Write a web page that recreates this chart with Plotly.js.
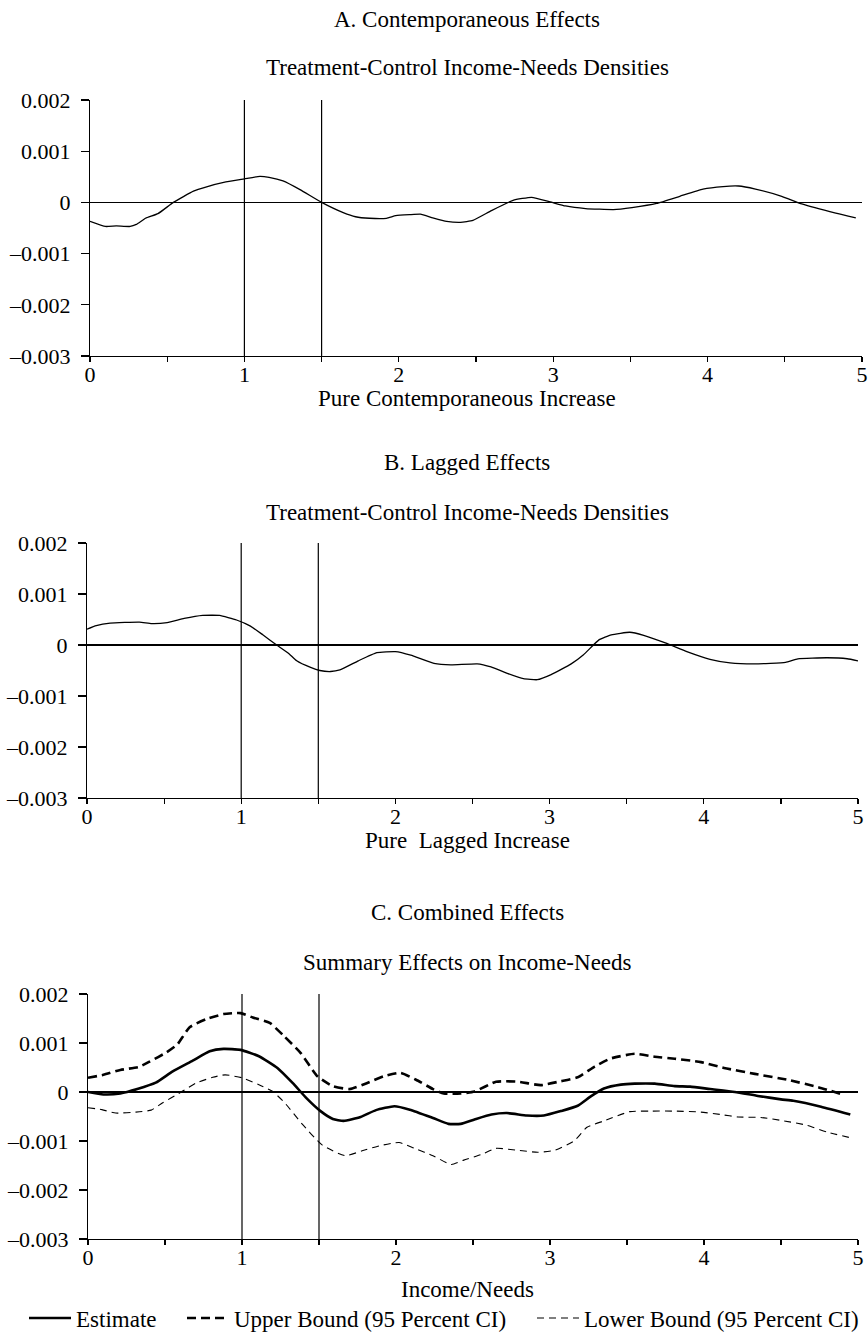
<!DOCTYPE html>
<html><head><meta charset="utf-8">
<script src="https://cdn.plot.ly/plotly-3.0.1.min.js"></script>
<style>html,body{margin:0;padding:0;background:#fff}#chart{width:868px;height:1332px}</style>
</head><body><div id="chart"></div>
<script>
// ---------- data ----------
const panelTitles = ["A. Contemporaneous Effects", "B. Lagged Effects", "C. Combined Effects"];
const panelSubtitles = ["Treatment-Control Income-Needs Densities", "Treatment-Control Income-Needs Densities", "Summary Effects on Income-Needs"];
const xAxisTitles = ["Pure Contemporaneous Increase", "Pure\u00a0 Lagged Increase", "Income/Needs"];
const seriesNames = ["Estimate", "Upper Bound (95 Percent CI)", "Lower Bound (95 Percent CI)"];

const xTickVals = [0, 0.5, 1, 1.5, 2, 2.5, 3, 3.5, 4, 4.5, 5];
const xTickText = ["0", "", "1", "", "2", "", "3", "", "4", "", "5"];
const yTickVals = [0.002, 0.001, 0, -0.001, -0.002, -0.003];
const yTickText = ["0.002", "0.001", "0", "\u20130.001", "\u20130.002", "\u20130.003"];
const cutoffs = [1, 1.5];

const contempX = [0, 0.1, 0.17, 0.26, 0.3, 0.36, 0.44, 0.54, 0.67, 0.75, 0.88, 1.0, 1.1, 1.16, 1.25, 1.36, 1.5, 1.64, 1.72, 1.81, 1.92, 1.98, 2.07, 2.14, 2.22, 2.31, 2.4, 2.48, 2.6, 2.74, 2.86, 2.98, 3.08, 3.21, 3.39, 3.51, 3.67, 3.82, 3.97, 4.1, 4.2, 4.31, 4.48, 4.61, 4.83, 4.96];
const contempY = [-0.00037, -0.00047, -0.00046, -0.00047, -0.00043, -0.00031, -0.00022, 0.0, 0.00022, 0.00030, 0.00040, 0.00046, 0.00051, 0.00049, 0.00042, 0.00025, 0.0, -0.00020, -0.00028, -0.00031, -0.00031, -0.00026, -0.00024, -0.00023, -0.00030, -0.00037, -0.00039, -0.00035, -0.00016, 0.00004, 0.00010, 0.00001, -0.00007, -0.00012, -0.00014, -0.00010, -0.00002, 0.00012, 0.00026, 0.00031, 0.00032, 0.00026, 0.00012, -0.00003, -0.00021, -0.00030];

const laggedX = [0, 0.06, 0.15, 0.34, 0.42, 0.52, 0.63, 0.75, 0.86, 0.97, 1.06, 1.14, 1.23, 1.31, 1.36, 1.45, 1.51, 1.58, 1.64, 1.76, 1.88, 2.0, 2.1, 2.25, 2.36, 2.53, 2.62, 2.73, 2.83, 2.92, 3.01, 3.14, 3.22, 3.32, 3.4, 3.52, 3.61, 3.76, 3.89, 4.04, 4.17, 4.33, 4.53, 4.61, 4.8, 4.93, 5.0];
const laggedY = [0.00031, 0.00038, 0.00043, 0.00045, 0.00042, 0.00044, 0.00052, 0.00058, 0.00058, 0.00049, 0.00037, 0.00020, 0.0, -0.00017, -0.00031, -0.00044, -0.00050, -0.00052, -0.00049, -0.00031, -0.00015, -0.00013, -0.00020, -0.00036, -0.00039, -0.00037, -0.00043, -0.00056, -0.00066, -0.00068, -0.00058, -0.00037, -0.00019, 0.00010, 0.00020, 0.00025, 0.00019, 0.00003, -0.00013, -0.00028, -0.00035, -0.00037, -0.00034, -0.00027, -0.00025, -0.00027, -0.00031];

const estX = [0, 0.1, 0.21, 0.32, 0.44, 0.55, 0.68, 0.79, 0.88, 0.99, 1.11, 1.23, 1.33, 1.42, 1.51, 1.59, 1.66, 1.77, 1.87, 1.99, 2.09, 2.24, 2.34, 2.42, 2.51, 2.62, 2.72, 2.85, 2.96, 3.07, 3.18, 3.26, 3.35, 3.46, 3.55, 3.68, 3.81, 3.91, 4.04, 4.2, 4.35, 4.5, 4.58, 4.76, 4.95];
const estY = [0, -0.00005, -0.00003, 0.00006, 0.00019, 0.00042, 0.00064, 0.00083, 0.00088, 0.00086, 0.00073, 0.00049, 0.00018, -0.00013, -0.00039, -0.00055, -0.00059, -0.00051, -0.00037, -0.00029, -0.00036, -0.00053, -0.00065, -0.00065, -0.00056, -0.00046, -0.00043, -0.00048, -0.00048, -0.00039, -0.00028, -0.00010, 0.00007, 0.00015, 0.00017, 0.00017, 0.00012, 0.00011, 0.00006, 0.0, -0.00008, -0.00015, -0.00018, -0.00030, -0.00046];

const upperX = [0, 0.1, 0.21, 0.33, 0.4, 0.51, 0.58, 0.66, 0.77, 0.88, 0.99, 1.07, 1.18, 1.27, 1.38, 1.49, 1.59, 1.7, 1.81, 1.92, 2.03, 2.13, 2.24, 2.31, 2.42, 2.51, 2.65, 2.79, 2.94, 3.07, 3.18, 3.29, 3.39, 3.55, 3.68, 3.81, 3.98, 4.13, 4.33, 4.54, 4.74, 4.91];
const upperY = [0.00029, 0.00035, 0.00045, 0.00051, 0.00062, 0.00081, 0.00097, 0.00132, 0.00149, 0.00159, 0.00161, 0.00152, 0.00141, 0.00115, 0.00080, 0.00032, 0.00012, 0.00006, 0.00018, 0.00032, 0.00039, 0.00025, 0.00006, -0.00003, -0.00003, 0.00001, 0.00021, 0.00021, 0.00014, 0.00022, 0.00030, 0.00052, 0.00068, 0.00078, 0.00072, 0.00068, 0.00061, 0.00049, 0.00037, 0.00025, 0.00010, -0.00006];

const lowerX = [0, 0.09, 0.18, 0.31, 0.41, 0.48, 0.59, 0.7, 0.81, 0.89, 1.0, 1.11, 1.2, 1.28, 1.39, 1.52, 1.67, 1.78, 1.89, 2.02, 2.12, 2.24, 2.36, 2.44, 2.55, 2.65, 2.79, 2.92, 3.03, 3.16, 3.24, 3.35, 3.52, 3.65, 3.81, 3.98, 4.11, 4.22, 4.37, 4.52, 4.67, 4.8, 4.96];
const lowerY = [-0.00032, -0.00036, -0.00043, -0.00041, -0.00037, -0.00023, -0.00003, 0.00018, 0.00030, 0.00035, 0.00029, 0.00015, 0.00001, -0.00023, -0.00065, -0.00108, -0.00130, -0.00120, -0.00110, -0.00103, -0.00115, -0.00130, -0.00148, -0.00139, -0.00128, -0.00115, -0.00119, -0.00123, -0.00119, -0.00099, -0.00072, -0.00059, -0.00040, -0.00039, -0.00039, -0.00041, -0.00046, -0.00051, -0.00052, -0.00059, -0.00068, -0.00082, -0.00094];

// ---------- layout helpers (pixel geometry) ----------
const W = 868, H = 1332;
const fx = p => p / W;
const fy = p => 1 - p / H;
const FONT = "Liberation Serif, Times New Roman, serif";

// panel plot areas: [left, right, top, bottom] in px
const boxes = [[90, 862, 100, 356], [87, 858, 543, 798], [88, 858, 994, 1239]];
const titleY = [[19, 67, 398], [462, 512, 840], [913, 962, 1289]];
const titleX = 467;

function xAxis(i) {
  const b = boxes[i];
  return {
    domain: [fx(b[0]), fx(b[1])], anchor: i === 0 ? 'y' : 'y' + (i + 1),
    range: [0, 5], showline: true, linecolor: '#000', linewidth: 1.2,
    ticks: 'outside', ticklen: 5, tickwidth: 1.2, tickcolor: '#000',
    tickmode: 'array', tickvals: xTickVals, ticktext: xTickText, ticklabelstandoff: -7,
    showgrid: false, zeroline: false, tickfont: {size: 22, color: '#000'}, fixedrange: true
  };
}
function yAxis(i) {
  const b = boxes[i];
  return {
    domain: [fy(b[3]), fy(b[2])], anchor: i === 0 ? 'x' : 'x' + (i + 1),
    range: [-0.003, 0.002], showline: true, linecolor: '#000', linewidth: 1.2,
    ticks: 'outside', ticklen: 8, tickwidth: 1.2, tickcolor: '#000',
    tickmode: 'array', tickvals: yTickVals, ticktext: yTickText, ticklabelstandoff: 6,
    showgrid: false, zeroline: true, zerolinecolor: '#000', zerolinewidth: 1.2,
    tickfont: {size: 22, color: '#000'}, fixedrange: true
  };
}

const traces = [
  {x: contempX, y: contempY, xaxis: 'x', yaxis: 'y', mode: 'lines', showlegend: false,
   line: {color: '#000', width: 1.3, shape: 'spline', smoothing: 0.4}},
  {x: laggedX, y: laggedY, xaxis: 'x2', yaxis: 'y2', mode: 'lines', showlegend: false,
   line: {color: '#000', width: 1.3, shape: 'spline', smoothing: 0.4}},
  {x: estX, y: estY, xaxis: 'x3', yaxis: 'y3', mode: 'lines', name: seriesNames[0], legend: 'legend',
   line: {color: '#000', width: 2.6, shape: 'spline', smoothing: 0.5}},
  {x: upperX, y: upperY, xaxis: 'x3', yaxis: 'y3', mode: 'lines', name: seriesNames[1], legend: 'legend2',
   line: {color: '#000', width: 2.6, dash: '9px,5px', shape: 'spline', smoothing: 0.5}},
  {x: lowerX, y: lowerY, xaxis: 'x3', yaxis: 'y3', mode: 'lines', name: seriesNames[2], legend: 'legend3',
   line: {color: '#000', width: 1.1, dash: '7px,5px', shape: 'spline', smoothing: 0.5}}
];

const shapes = [];
[0, 1, 2].forEach(i => {
  const xr = i === 0 ? 'x' : 'x' + (i + 1);
  const yr = (i === 0 ? 'y' : 'y' + (i + 1)) + ' domain';
  cutoffs.forEach(c => shapes.push({type: 'line', xref: xr, yref: yr, x0: c, x1: c, y0: 0, y1: 1,
    line: {color: '#000', width: 1.2}, layer: 'above'}));
});

const annotations = [];
[0, 1, 2].forEach(i => {
  const texts = [panelTitles[i], panelSubtitles[i], xAxisTitles[i]];
  texts.forEach((t, k) => annotations.push({
    text: t, xref: 'paper', yref: 'paper', x: fx(titleX), y: fy(titleY[i][k]),
    xanchor: 'center', yanchor: 'middle', showarrow: false, font: {size: 23, color: '#000'}
  }));
});

function legendAt(px) {
  return {orientation: 'h', x: fx(px), xanchor: 'left', y: fy(1318), yanchor: 'middle',
          bgcolor: 'rgba(0,0,0,0)', font: {size: 23, color: '#000'}, itemwidth: 42};
}

const layout = {
  width: W, height: H, margin: {l: 0, r: 0, t: 0, b: 0, autoexpand: false},
  paper_bgcolor: '#fff', plot_bgcolor: 'rgba(0,0,0,0)',
  font: {family: FONT, size: 22, color: '#000'},
  xaxis: xAxis(0), yaxis: yAxis(0),
  xaxis2: xAxis(1), yaxis2: yAxis(1),
  xaxis3: xAxis(2), yaxis3: yAxis(2),
  shapes: shapes, annotations: annotations,
  showlegend: true,
  legend: legendAt(24), legend2: legendAt(182), legend3: legendAt(532)
};

Plotly.newPlot('chart', traces, layout, {staticPlot: true, displayModeBar: false});
</script>
</body></html>
